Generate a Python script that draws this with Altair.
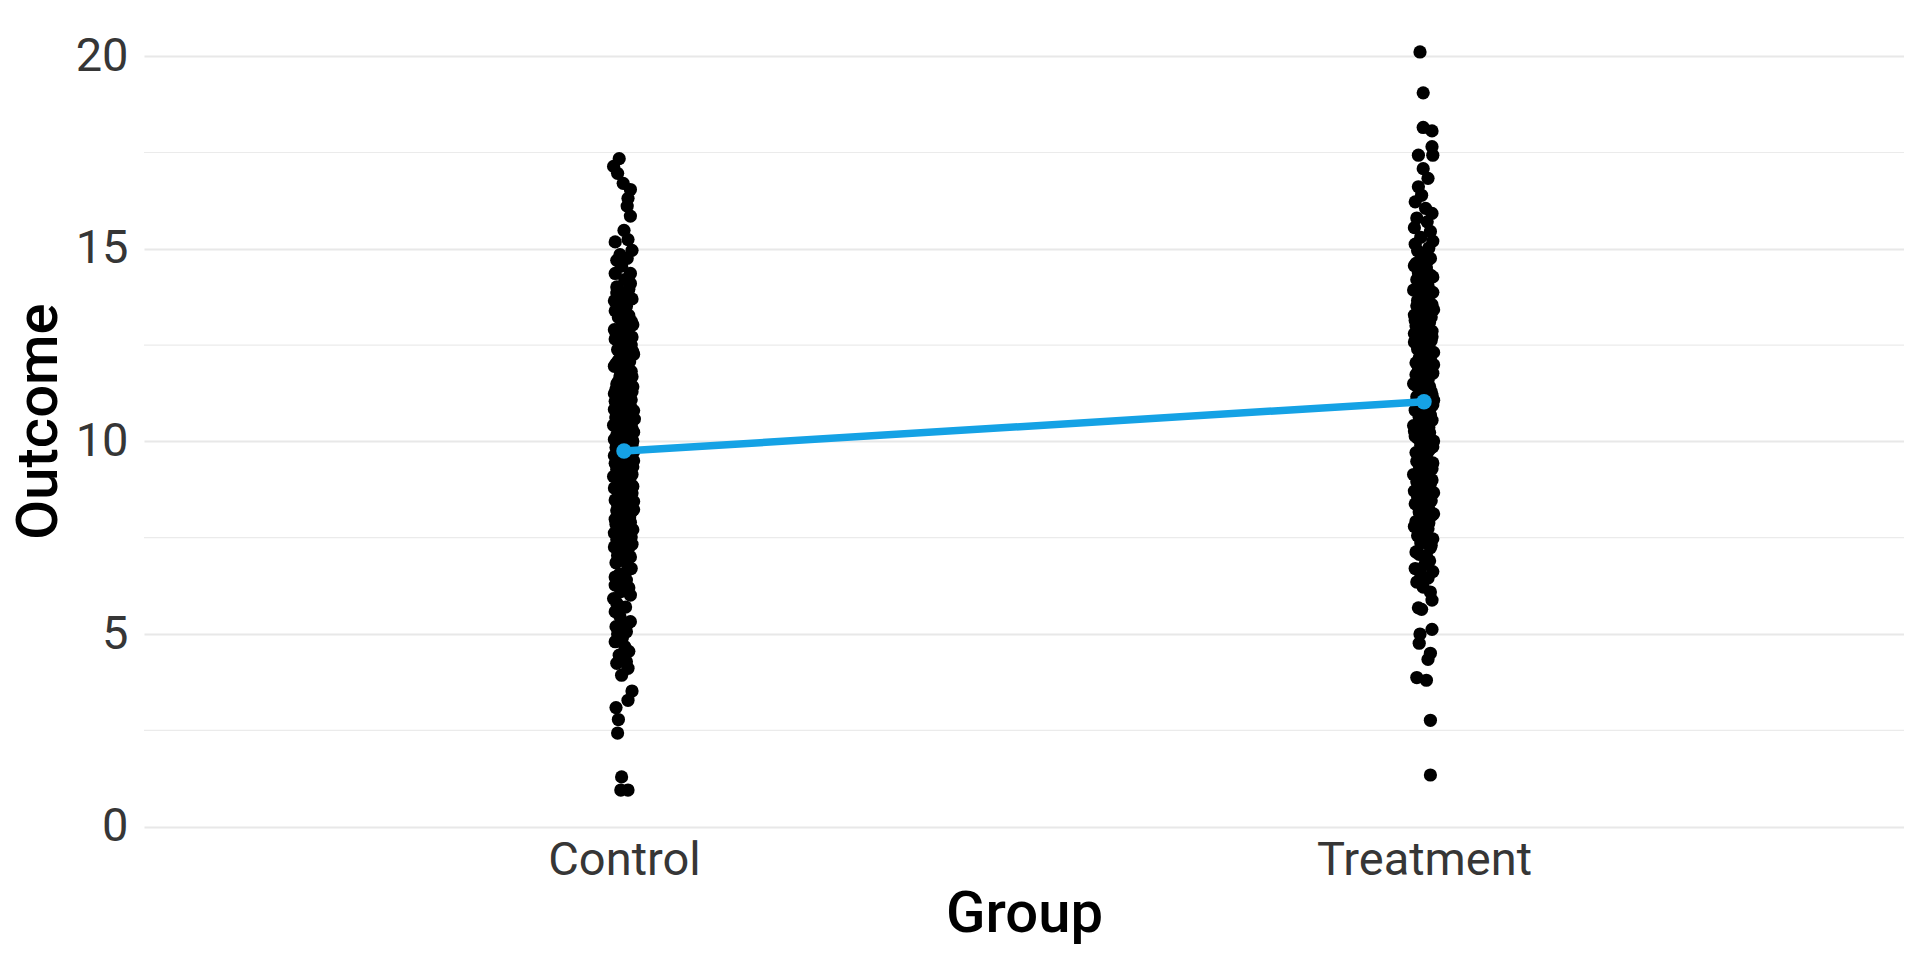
import altair as alt
import pandas as pd

groups = ["Control", "Treatment"]
group_means = [9.75, 11.03]
y_ticks = [0, 5, 10, 15, 20]
minor_breaks = [2.5, 7.5, 12.5, 17.5]

# (outcome, horizontal jitter in thousandths of a group step)
control_points = [
    (17.34, -6), (17.14, -13), (16.96, -8), (16.70, -1), (16.54, 8), (16.31, 5), (16.11, 4),
    (15.85, 8), (15.48, 0), (15.24, 5), (15.18, -11), (14.96, 10), (14.70, -9), (14.75, 4),
    (14.36, -11), (14.36, 8), (14.01, -9), (14.10, 8), (13.80, -1), (13.85, -9), (13.58, -1),
    (14.55, -3), (14.2, 1), (13.95, 6), (13.7, 10), (13.65, -12), (14.85, -5),
    (0.95, -4), (0.95, 5), (1.29, -3), (2.43, -8), (2.78, -7), (3.09, -10), (3.28, 5), (3.52, 10),
    (3.93, -3), (4.11, 5), (4.24, -9), (4.28, 3), (4.45, -6), (4.55, 6), (4.67, 1), (4.80, -11),
    (4.9, -2), (5.0, -8), (5.06, 3), (5.19, -10), (5.25, 4), (5.32, 8), (5.45, -5), (5.58, -11),
    (5.7, 2), (5.8, -9), (5.92, -13), (6.01, 8), (6.1, -4), (6.2, 6), (6.27, -11), (6.35, -8),
    (6.40, 3), (6.48, -11), (6.55, -6), (6.6, 2), (6.7, 9), (6.85, -10), (6.9, 0), (7.00, 8),
    (7.04, -8), (7.18, 5), (7.26, -12), (7.39, 2), (7.52, 9), (7.58, -4), (7.71, 11), (7.85, -10),
    (7.93, 0), (8.02, 7), (8.11, -6), (8.23, 12), (8.29, -2), (8.41, 4), (8.48, -11), (8.57, 8),
    (8.69, -7), (8.74, 1), (8.86, 10), (8.95, -3), (9.03, 6), (9.09, -13), (9.21, 3), (9.28, -9),
    (9.34, 11), (9.46, -1), (9.55, 7), (9.61, -5), (9.73, 12), (9.79, -8), (9.88, 2), (9.97, 9),
    (10.05, -12), (10.12, 5), (10.21, -4), (10.33, 10), (10.38, -7), (10.49, 0), (10.58, 13),
    (10.64, -10), (10.77, 4), (10.85, -2), (10.91, 8), (11.04, -11), (11.13, 6), (11.19, -6),
    (11.31, 1), (11.42, 11), (11.49, -9), (11.61, 3), (11.73, -3), (11.82, 9), (11.95, -12),
    (12.07, 7), (12.13, -1), (12.26, 12), (12.38, -8), (12.47, 5), (12.62, -5), (12.71, 10),
    (12.84, -10), (12.97, 2), (13.08, 8), (13.16, -4), (13.27, 6), (13.39, -11), (13.51, 3),
    (6.95, 4), (7.11, -3), (7.33, 10), (7.45, -9), (7.64, 6), (7.77, -1), (7.98, -11), (8.07, 3),
    (8.16, 9), (8.35, -8), (8.44, 12), (8.53, -5), (8.62, 1), (8.79, -12), (8.91, 6), (8.99, -2),
    (9.14, 10), (9.25, -6), (9.39, 4), (9.43, -11), (9.5, 12), (9.66, -3), (9.7, 6), (9.84, -10),
    (9.92, -5), (10.01, 11), (10.09, 1), (10.17, -9), (10.27, 7), (10.42, -13), (10.53, 5),
    (10.69, -6), (10.8, 12), (10.97, -1), (11.08, 9), (11.24, -12), (11.37, 4), (11.56, -7),
    (11.68, 10), (11.89, -2), (12.02, -10), (12.19, 3), (12.33, 11), (12.55, -6), (12.78, 2),
    (12.9, -12), (13.12, 9), (13.22, -7), (13.45, 0),
    (7.49, -6), (7.9, 8), (8.2, -9), (8.38, 5), (8.71, -4), (8.83, 11), (9.06, -1), (9.18, -8),
    (9.31, 7), (9.58, 2), (9.63, -12), (9.81, 9), (9.95, -4), (10.14, -7), (10.24, 12), (10.36, 3),
    (10.61, -10), (10.73, 8), (10.88, -5), (11.0, 2), (11.16, -8), (11.29, 10), (11.46, -3),
    (11.78, 6), (12.1, -7), (12.42, 1), (12.66, -11), (13.03, 11),
    (7.22, 1), (7.62, -12), (8.05, -4), (8.26, 8), (8.5, -1), (8.66, 10), (8.88, -7), (9.12, 4),
    (9.36, -3), (9.53, -9), (9.69, 1), (9.9, 10), (10.07, -6), (10.3, -1), (10.46, 9), (10.66, 5),
    (10.83, -12), (11.1, 0), (11.35, -10), (11.52, 7), (11.7, -5), (11.98, 2), (12.22, -4),
    (12.5, 9), (12.85, -6), (13.3, 1),
]

treatment_points = [
    (20.11, -5), (19.05, -1), (18.15, -1), (18.06, 10), (17.65, 10), (17.43, -7), (17.43, 11),
    (17.08, -1), (16.83, 5), (16.61, -7), (16.39, -3), (16.22, -11), (15.92, 10), (16.05, 2),
    (15.8, -9), (15.7, 4), (15.55, -12), (15.45, 8), (15.3, -4), (15.2, 11),
    (1.34, 8), (2.76, 8), (3.80, 3), (3.87, -9), (4.34, 5), (4.50, 8), (4.76, -6), (5.00, -5),
    (5.12, 10), (5.64, -3), (5.68, -7), (5.88, 10), (6.09, 8), (6.22, -1), (6.35, -9), (6.45, 5),
    (6.55, -4), (6.62, 11), (6.7, -11), (6.8, 1), (6.9, 7),
    (7.02, 3), (7.13, -10), (7.24, 8), (7.36, -4), (7.47, 11), (7.55, -8), (7.68, 1), (7.79, -12),
    (7.88, 6), (7.97, -2), (8.08, 10), (8.17, -6), (8.29, 4), (8.38, -11), (8.46, 9), (8.58, -3),
    (8.67, 12), (8.75, -9), (8.86, 2), (8.97, -5), (9.06, 7), (9.14, -13), (9.25, 5), (9.33, -1),
    (9.44, 11), (9.52, -7), (9.63, 3), (9.71, -10), (9.82, 8), (9.9, -4), (10.01, 12), (10.09, -8),
    (10.18, 1), (10.27, -12), (10.36, 6), (10.44, -2), (10.55, 10), (10.63, -6), (10.72, 4),
    (10.81, -11), (10.9, 9), (10.98, -3), (11.07, 12), (11.16, -9), (11.24, 2), (11.33, -5),
    (11.42, 7), (11.5, -13), (11.59, 5), (11.68, -1), (11.77, 11), (11.86, -7), (11.95, 3),
    (12.04, -10), (12.13, 8), (12.22, -4), (12.31, 12), (12.4, -8), (12.49, 1), (12.58, -12),
    (12.67, 6), (12.76, -2), (12.86, 10), (12.95, -6), (13.04, 4), (13.14, -11), (13.23, 9),
    (13.33, -3), (13.42, 12), (13.52, -9), (13.61, 2), (13.71, -5), (13.82, 7), (13.93, -13),
    (14.04, 5), (14.15, -1), (14.27, 11), (14.38, -7), (14.5, 3), (14.62, -10), (14.75, 8),
    (14.88, -4), (15.02, 6), (15.12, -11),
    (7.07, -6), (7.3, 9), (7.51, -1), (7.73, 5), (7.92, -10), (8.12, 12), (8.33, -7), (8.52, 4),
    (8.71, -12), (8.91, 8), (9.1, -3), (9.29, 10), (9.48, -9), (9.67, 1), (9.86, 11), (10.05, -5),
    (10.23, 7), (10.41, -13), (10.59, 3), (10.77, -7), (10.95, 11), (11.12, -1), (11.29, 9),
    (11.46, -11), (11.64, 5), (11.81, -3), (11.99, 12), (12.17, -6), (12.36, 6), (12.54, -10),
    (12.72, 10), (12.91, -2), (13.1, 7), (13.28, -12), (13.47, 4), (13.66, -8), (13.87, 11),
    (14.09, -6), (14.32, 8), (14.56, -12), (14.81, 2),
    (8.0, 0), (8.56, -8), (9.0, 10), (9.38, -6), (9.76, 6), (10.14, -11), (10.5, 1), (10.86, -4),
    (11.2, 10), (11.55, -8), (11.9, 7), (12.27, -3), (12.62, 9), (13.0, -10), (13.38, 0),
    (13.77, 5), (14.2, -9), (14.68, 4),
    (7.4, 0), (7.85, -7), (8.25, 6), (8.62, 0), (8.95, -9), (9.2, 1), (9.58, -4), (9.95, 4),
    (10.3, -7), (10.68, 8), (11.02, -10), (11.38, 2), (11.73, -10), (12.08, 0), (12.45, 4),
    (12.8, -12), (13.18, 1), (13.55, 10), (13.98, 0), (14.42, -3), (14.95, -8),
]

rows = []
for gi, (name, pts) in enumerate(zip(groups, [control_points, treatment_points]), start=1):
    for val, jit in pts:
        rows.append({"group": name, "xpos": gi + jit / 1000.0, "outcome": val})
points_df = pd.DataFrame(rows)
means_df = pd.DataFrame({"group": groups, "xpos": [1, 2], "outcome": group_means})
minor_df = pd.DataFrame({"outcome": minor_breaks})

W, H = 1760, 812
label_expr = "[" + ",".join("'%s'" % g for g in groups) + "][datum.value - 1]"

x_enc = alt.X(
    "xpos:Q",
    scale=alt.Scale(domain=[0.4, 2.6], nice=False, zero=False),
    axis=alt.Axis(
        values=[1, 2], labelExpr=label_expr, title="Group", grid=False, domain=False,
        ticks=False, labelFont="Roboto", labelFontSize=47, labelColor="#363636",
        labelPadding=10, labelFlush=False, labelOverlap=False, labelLimit=0,
        titleFont="Roboto", titleFontSize=58, titleFontWeight=500, titleColor="#000000",
        titleX=W / 2, titleY=104, titleAlign="center", titleBaseline="alphabetic",
    ),
)
y_enc = alt.Y(
    "outcome:Q",
    scale=alt.Scale(domain=[-0.01, 21.07], nice=False, zero=False),
    axis=alt.Axis(
        values=y_ticks, title="Outcome", grid=True, gridColor="#E8E8E8", gridWidth=2,
        domain=False, ticks=False, labelFont="Roboto", labelFontSize=47,
        labelColor="#363636", labelPadding=16, labelLimit=0,
        titleFont="Roboto", titleFontSize=58, titleFontWeight=500, titleColor="#000000",
        titleAngle=270, titleX=-88, titleY=H / 2, titleAlign="center",
        titleBaseline="alphabetic",
    ),
)

minor = alt.Chart(minor_df).mark_rule(color="#EBEBEB", strokeWidth=1.2).encode(y=y_enc)
pts = alt.Chart(points_df).mark_circle(size=175, color="#000000", opacity=1).encode(x=x_enc, y=y_enc)
line = alt.Chart(means_df).mark_line(color="#15A2E5", strokeWidth=7.5).encode(x=x_enc, y=y_enc)
mpts = alt.Chart(means_df).mark_circle(size=240, color="#15A2E5", opacity=1).encode(x=x_enc, y=y_enc)

chart = alt.layer(minor, pts, line, mpts).properties(
    width=W, height=H,
    autosize=alt.AutoSizeParams(type="none"),
    padding={"left": 136, "top": 7, "right": 0, "bottom": 126},
    background="#FFFFFF",
).configure_view(stroke=None)

chart.save("out.html", embed_options={"renderer": "svg", "actions": False})
